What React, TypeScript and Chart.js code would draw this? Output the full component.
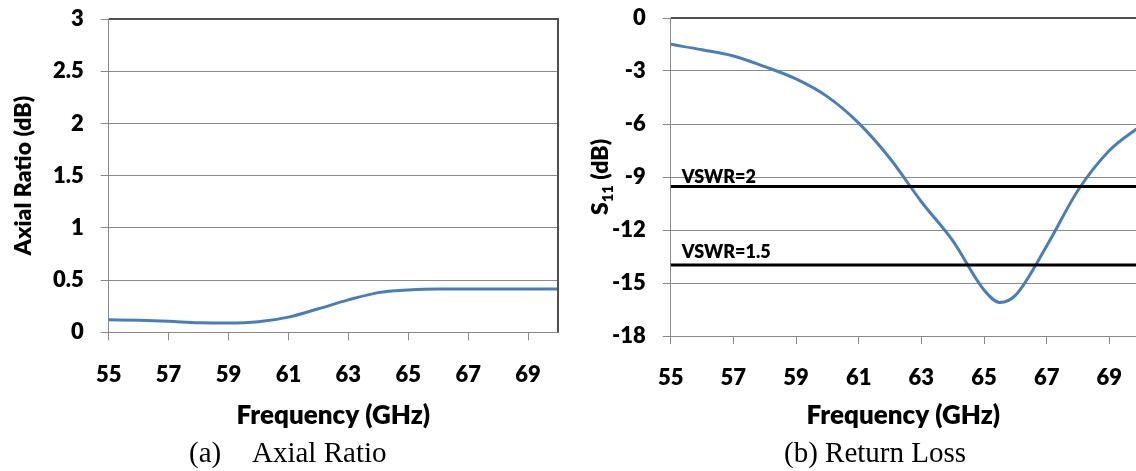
import React, { useEffect, useRef } from "react";
import { Chart, registerables } from "chart.js";

Chart.register(...registerables);

// ---------- data ----------
const freqAR = [55, 56, 57, 58, 59, 60, 61, 62, 63, 64, 65, 66, 67, 68, 69, 70];
const axialRatio = [0.12, 0.115, 0.105, 0.092, 0.088, 0.1, 0.145, 0.225, 0.31, 0.38, 0.405, 0.415, 0.415, 0.415, 0.415, 0.415];

const freqS11 = [55, 56, 57, 58, 59, 60, 61, 62, 63, 64, 65, 65.5, 66, 67, 68, 69, 70];
const s11 = [-1.49, -1.8, -2.15, -2.75, -3.45, -4.45, -5.95, -7.95, -10.4, -12.6, -15.4, -16.1, -15.7, -12.9, -9.75, -7.5, -6.1];

const xTicks = [55, 57, 59, 61, 63, 65, 67, 69];
const vswrLabels = ["VSWR=2", "VSWR=1.5"];
const vswrLevels = [-9.54, -13.98];

const xTitle = "Frequency (GHz)";
const arTitle = "Axial Ratio (dB)";
const captionA = ["(a)", "Axial Ratio"];
const captionB = "(b) Return Loss";

// ---------- style ----------
const FONT = "Lato, 'Noto Sans', 'DejaVu Sans', sans-serif";
const W = 800;
const GRID = "#8a8a8a";
const FRAME = "#505050";
const BLUE = "#4a7ebb";
const H = 440;

const tickFont = { family: FONT, size: 22, weight: W as any };
const xTitleFont = { family: FONT, size: 26, weight: W as any };
const yTitleFont = { family: FONT, size: 23, weight: W as any };

const frameBorder = (showRight: boolean) => ({
  id: "frameBorder",
  afterDatasetsDraw(chart: any) {
    const { ctx, chartArea: a } = chart;
    ctx.save();
    ctx.strokeStyle = FRAME;
    ctx.lineWidth = 2;
    ctx.beginPath();
    ctx.moveTo(a.left, a.top);
    ctx.lineTo(a.right + (showRight ? 0 : 2), a.top);
    if (showRight) ctx.lineTo(a.right, a.bottom);
    ctx.stroke();
    ctx.restore();
  },
});

const s11Title = {
  id: "s11Title",
  afterDraw(chart: any) {
    const { ctx, chartArea: a } = chart;
    const cx = 32;
    const cy = (a.top + a.bottom) / 2;
    const big = `${W} 23px ${FONT}`;
    const small = `${W} 15px ${FONT}`;
    ctx.save();
    ctx.translate(cx, cy);
    ctx.rotate(-Math.PI / 2);
    ctx.fillStyle = "#000";
    ctx.textBaseline = "alphabetic";
    ctx.textAlign = "left";
    ctx.font = big;
    const wS = ctx.measureText("S").width;
    const wT = ctx.measureText(" (dB)").width;
    ctx.font = small;
    const w11 = ctx.measureText("11").width;
    let x = -(wS + w11 + wT) / 2;
    const base = 8;
    ctx.font = big;
    ctx.fillText("S", x, base);
    x += wS;
    ctx.font = small;
    ctx.fillText("11", x, base + 5);
    x += w11;
    ctx.font = big;
    ctx.fillText(" (dB)", x, base);
    ctx.restore();
  },
};

const vswrText = {
  id: "vswrText",
  afterDatasetsDraw(chart: any) {
    const { ctx, chartArea: a, scales } = chart;
    const offs = [4, 7];
    ctx.save();
    ctx.fillStyle = "#000";
    ctx.font = `${W} 18px ${FONT}`;
    ctx.textBaseline = "alphabetic";
    ctx.textAlign = "left";
    vswrLabels.forEach((t, i) => {
      const y = scales.y.getPixelForValue(vswrLevels[i]) - offs[i];
      ctx.fillText(t, a.left + 11, y);
    });
    ctx.restore();
  },
};

function xScale(max: number, axisY: number) {
  return {
    type: "linear" as const,
    min: 55,
    max,
    afterBuildTicks: (s: any) => {
      s.ticks = xTicks.map((v) => ({ value: v }));
    },
    afterFit: (s: any) => {
      s.height = H - axisY;
      s.paddingLeft = 0;
      s.paddingRight = 0;
    },
    grid: { drawOnChartArea: false, drawTicks: true, tickLength: 8, color: GRID, lineWidth: 1 },
    border: { color: GRID, width: 1 },
    ticks: { font: tickFont, color: "#000", padding: 21, maxRotation: 0, autoSkip: false },
    title: {
      display: true,
      text: xTitle,
      font: xTitleFont,
      color: "#000",
      padding: { top: 0, bottom: 9 },
    },
  };
}

function yScale(min: number, max: number, step: number, width: number, title: string | null) {
  return {
    type: "linear" as const,
    min,
    max,
    afterFit: (s: any) => {
      s.width = width;
      s.paddingTop = 0;
      s.paddingBottom = 0;
    },
    ticks: { stepSize: step, font: tickFont, color: "#000", padding: 17, callback: (v: any) => `${v}` },
    grid: { color: GRID, tickLength: 8, drawTicks: true },
    border: { color: GRID, width: 1 },
    title: {
      display: title !== null,
      text: title ?? "",
      font: yTitleFont,
      color: "#000",
      padding: { top: 10, bottom: 0 },
    },
  };
}

function AxialChart() {
  const ref = useRef<HTMLCanvasElement>(null);
  useEffect(() => {
    const chart = new Chart(ref.current!, {
      type: "line",
      data: {
        datasets: [
          {
            data: freqAR.map((f, i) => ({ x: f, y: axialRatio[i] })),
            borderColor: BLUE,
            borderWidth: 3,
            pointRadius: 0,
            cubicInterpolationMode: "monotone",
            fill: false,
          },
        ],
      },
      options: {
        responsive: false,
        animation: false,
        layout: { padding: { top: 19, right: 10, left: 0, bottom: 0 } },
        plugins: { legend: { display: false }, tooltip: { enabled: false } },
        scales: {
          x: xScale(70, 332.3) as any,
          y: yScale(0, 3, 0.5, 108.7, arTitle) as any,
        },
      },
      plugins: [frameBorder(true)],
    });
    return () => chart.destroy();
  }, []);
  return <canvas ref={ref} width={568} height={H} style={{ position: "absolute", left: 0, top: 0 }} />;
}

function S11Chart() {
  const ref = useRef<HTMLCanvasElement>(null);
  useEffect(() => {
    const chart = new Chart(ref.current!, {
      type: "line",
      data: {
        datasets: [
          ...vswrLevels.map((v) => ({
            data: [
              { x: 55, y: v },
              { x: 70, y: v },
            ],
            borderColor: "#000",
            borderWidth: 3,
            pointRadius: 0,
            fill: false,
          })),
          {
            data: freqS11.map((f, i) => ({ x: f, y: s11[i] })),
            borderColor: BLUE,
            borderWidth: 3,
            pointRadius: 0,
            cubicInterpolationMode: "monotone",
            fill: false,
          },
        ],
      },
      options: {
        responsive: false,
        animation: false,
        layout: { padding: { top: 18, right: 0, left: 0, bottom: 0 } },
        plugins: { legend: { display: false }, tooltip: { enabled: false } },
        scales: {
          x: xScale(69.85, 336) as any,
          y: yScale(-18, 0, 3, 102.7, null) as any,
        },
      },
      plugins: [frameBorder(false), s11Title, vswrText],
    });
    return () => chart.destroy();
  }, []);
  return <canvas ref={ref} width={568} height={H} style={{ position: "absolute", left: 568, top: 0 }} />;
}

const capStyle: React.CSSProperties = {
  position: "absolute",
  top: 437.7,
  fontFamily: "'Liberation Serif', 'Times New Roman', serif",
  fontSize: 29,
  lineHeight: "29px",
  whiteSpace: "pre",
  color: "#000",
};

export default function App() {
  useEffect(() => {
    document.body.style.margin = "0";
  }, []);
  return (
    <div style={{ position: "relative", width: 1136, height: 471, overflow: "hidden", background: "#fff" }}>
      <AxialChart />
      <S11Chart />
      <div style={{ ...capStyle, left: 189 }}>{captionA[0]}</div>
      <div style={{ ...capStyle, left: 252 }}>{captionA[1]}</div>
      <div style={{ ...capStyle, left: 784 }}>{captionB}</div>
    </div>
  );
}
